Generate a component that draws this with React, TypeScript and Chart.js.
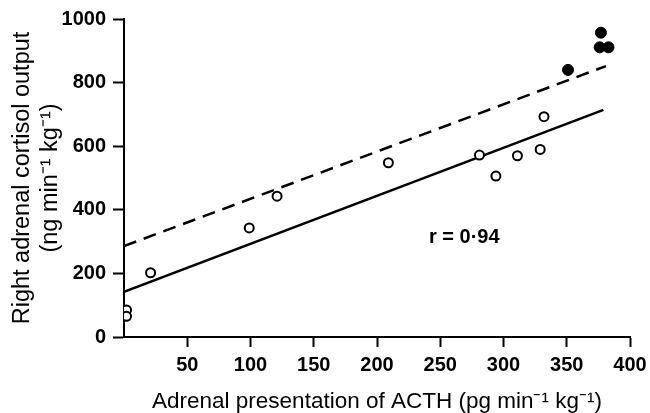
import React, { useEffect, useRef } from "react";
import { Chart, registerables } from "chart.js";

Chart.register(...registerables);

// Open circles
const openX = [2, 2, 21, 99, 121, 209, 281, 294, 311, 329, 332];
const openY = [85, 65, 202, 343, 443, 548, 572, 506, 570, 590, 693];
// Filled circles
const filledX = [351, 377, 376, 383];
const filledY = [840, 957, 911, 911];
// Regression lines (endpoints)
const solidLineX = [0, 379];
const solidLineY = [142, 714];
const dashedLineX = [0, 381];
const dashedLineY = [286, 852];

const xTicks = [0, 50, 100, 150, 200, 250, 300, 350, 400];
const yTicks = [0, 200, 400, 600, 800, 1000];
const xTitle = "Adrenal presentation of ACTH (pg min\u207B\u00B9 kg\u207B\u00B9)";
const yTitle = ["Right adrenal cortisol output", "(ng min\u207B\u00B9 kg\u207B\u00B9)"];
const rLabel = "r = 0\u00B794";
const rLabelPos = { x: 269, y: 314 };

const zip = (xs: number[], ys: number[]) => xs.map((x, i) => ({ x, y: ys[i] }));

const FONT = "'Liberation Sans', Arial, Helvetica, sans-serif";

export default function App() {
  const ref = useRef<HTMLCanvasElement>(null);
  useEffect(() => {
    document.body.style.margin = "0";
    const annot = {
      id: "rlabel",
      afterDatasetsDraw(chart: any) {
        const { ctx, scales } = chart;
        ctx.save();
        ctx.font = `bold 20px ${FONT}`;
        ctx.fillStyle = "#000";
        ctx.textAlign = "center";
        ctx.textBaseline = "middle";
        ctx.fillText(rLabel, scales.x.getPixelForValue(rLabelPos.x), scales.y.getPixelForValue(rLabelPos.y));
        ctx.restore();
      },
    };
    const chart = new Chart(ref.current!, {
      type: "scatter",
      data: {
        datasets: [
          {
            data: zip(openX, openY),
            pointRadius: 4.5,
            pointBackgroundColor: "#fff",
            pointBorderColor: "#000",
            pointBorderWidth: 2,
          },
          {
            data: zip(filledX, filledY),
            pointRadius: 5.5,
            pointBackgroundColor: "#000",
            pointBorderColor: "#000",
            pointBorderWidth: 1,
          },
          {
            data: zip(solidLineX, solidLineY),
            showLine: true,
            borderColor: "#000",
            borderWidth: 2.5,
            pointRadius: 0,
          },
          {
            data: zip(dashedLineX, dashedLineY),
            showLine: true,
            borderColor: "#000",
            borderWidth: 2.5,
            borderDash: [13, 8],
            pointRadius: 0,
          },
        ],
      },
      options: {
        animation: false,
        responsive: false,
        layout: { padding: { top: 19, right: 20, left: 0, bottom: 0 } },
        plugins: { legend: { display: false }, tooltip: { enabled: false } },
        scales: {
          x: {
            type: "linear",
            min: 0,
            max: 400,
            afterBuildTicks: (s: any) => {
              s.ticks = xTicks.map((v) => ({ value: v }));
            },
            afterFit: (s: any) => {
              s.height = 76;
              s.paddingLeft = 0;
              s.paddingRight = 0;
            },
            border: { display: true, color: "#000", width: 2 },
            grid: {
              drawOnChartArea: false,
              drawTicks: true,
              tickLength: 10,
              tickWidth: 2,
              tickColor: (c: any) => (c.tick && c.tick.value === 0 ? "rgba(0,0,0,0)" : "#000"),
            },
            ticks: {
              color: "#000",
              padding: 6,
              maxRotation: 0,
              font: { family: FONT, size: 20, weight: "bold" },
              callback: (v: any) => (v === 0 ? "" : String(v)),
            },
            title: {
              display: true,
              text: xTitle,
              color: "#000",
              font: { family: FONT, size: 22.5, lineHeight: 1.0 },
              padding: { top: 0, bottom: 0 },
            },
          },
          y: {
            type: "linear",
            min: 0,
            max: 1000,
            afterBuildTicks: (s: any) => {
              s.ticks = yTicks.map((v) => ({ value: v }));
            },
            afterFit: (s: any) => {
              s.width = 124;
              s.paddingTop = 0;
              s.paddingBottom = 0;
            },
            border: { display: true, color: "#000", width: 2 },
            grid: {
              drawOnChartArea: false,
              drawTicks: true,
              tickLength: 11,
              tickWidth: 2,
              tickColor: "#000",
            },
            ticks: {
              color: "#000",
              padding: 7,
              font: { family: FONT, size: 20, weight: "bold" },
              callback: (v: any) => String(v),
            },
            title: {
              display: true,
              text: yTitle,
              color: "#000",
              font: { family: FONT, size: 23.5, lineHeight: 1.15 },
              padding: { top: 9.5, bottom: 0 },
            },
          },
        },
      },
      plugins: [annot],
    });
    return () => chart.destroy();
  }, []);
  return (
    <div style={{ position: "absolute", left: 0, top: 0, width: 650, height: 413 }}>
      <canvas ref={ref} width={650} height={413} style={{ width: 650, height: 413 }} />
    </div>
  );
}
